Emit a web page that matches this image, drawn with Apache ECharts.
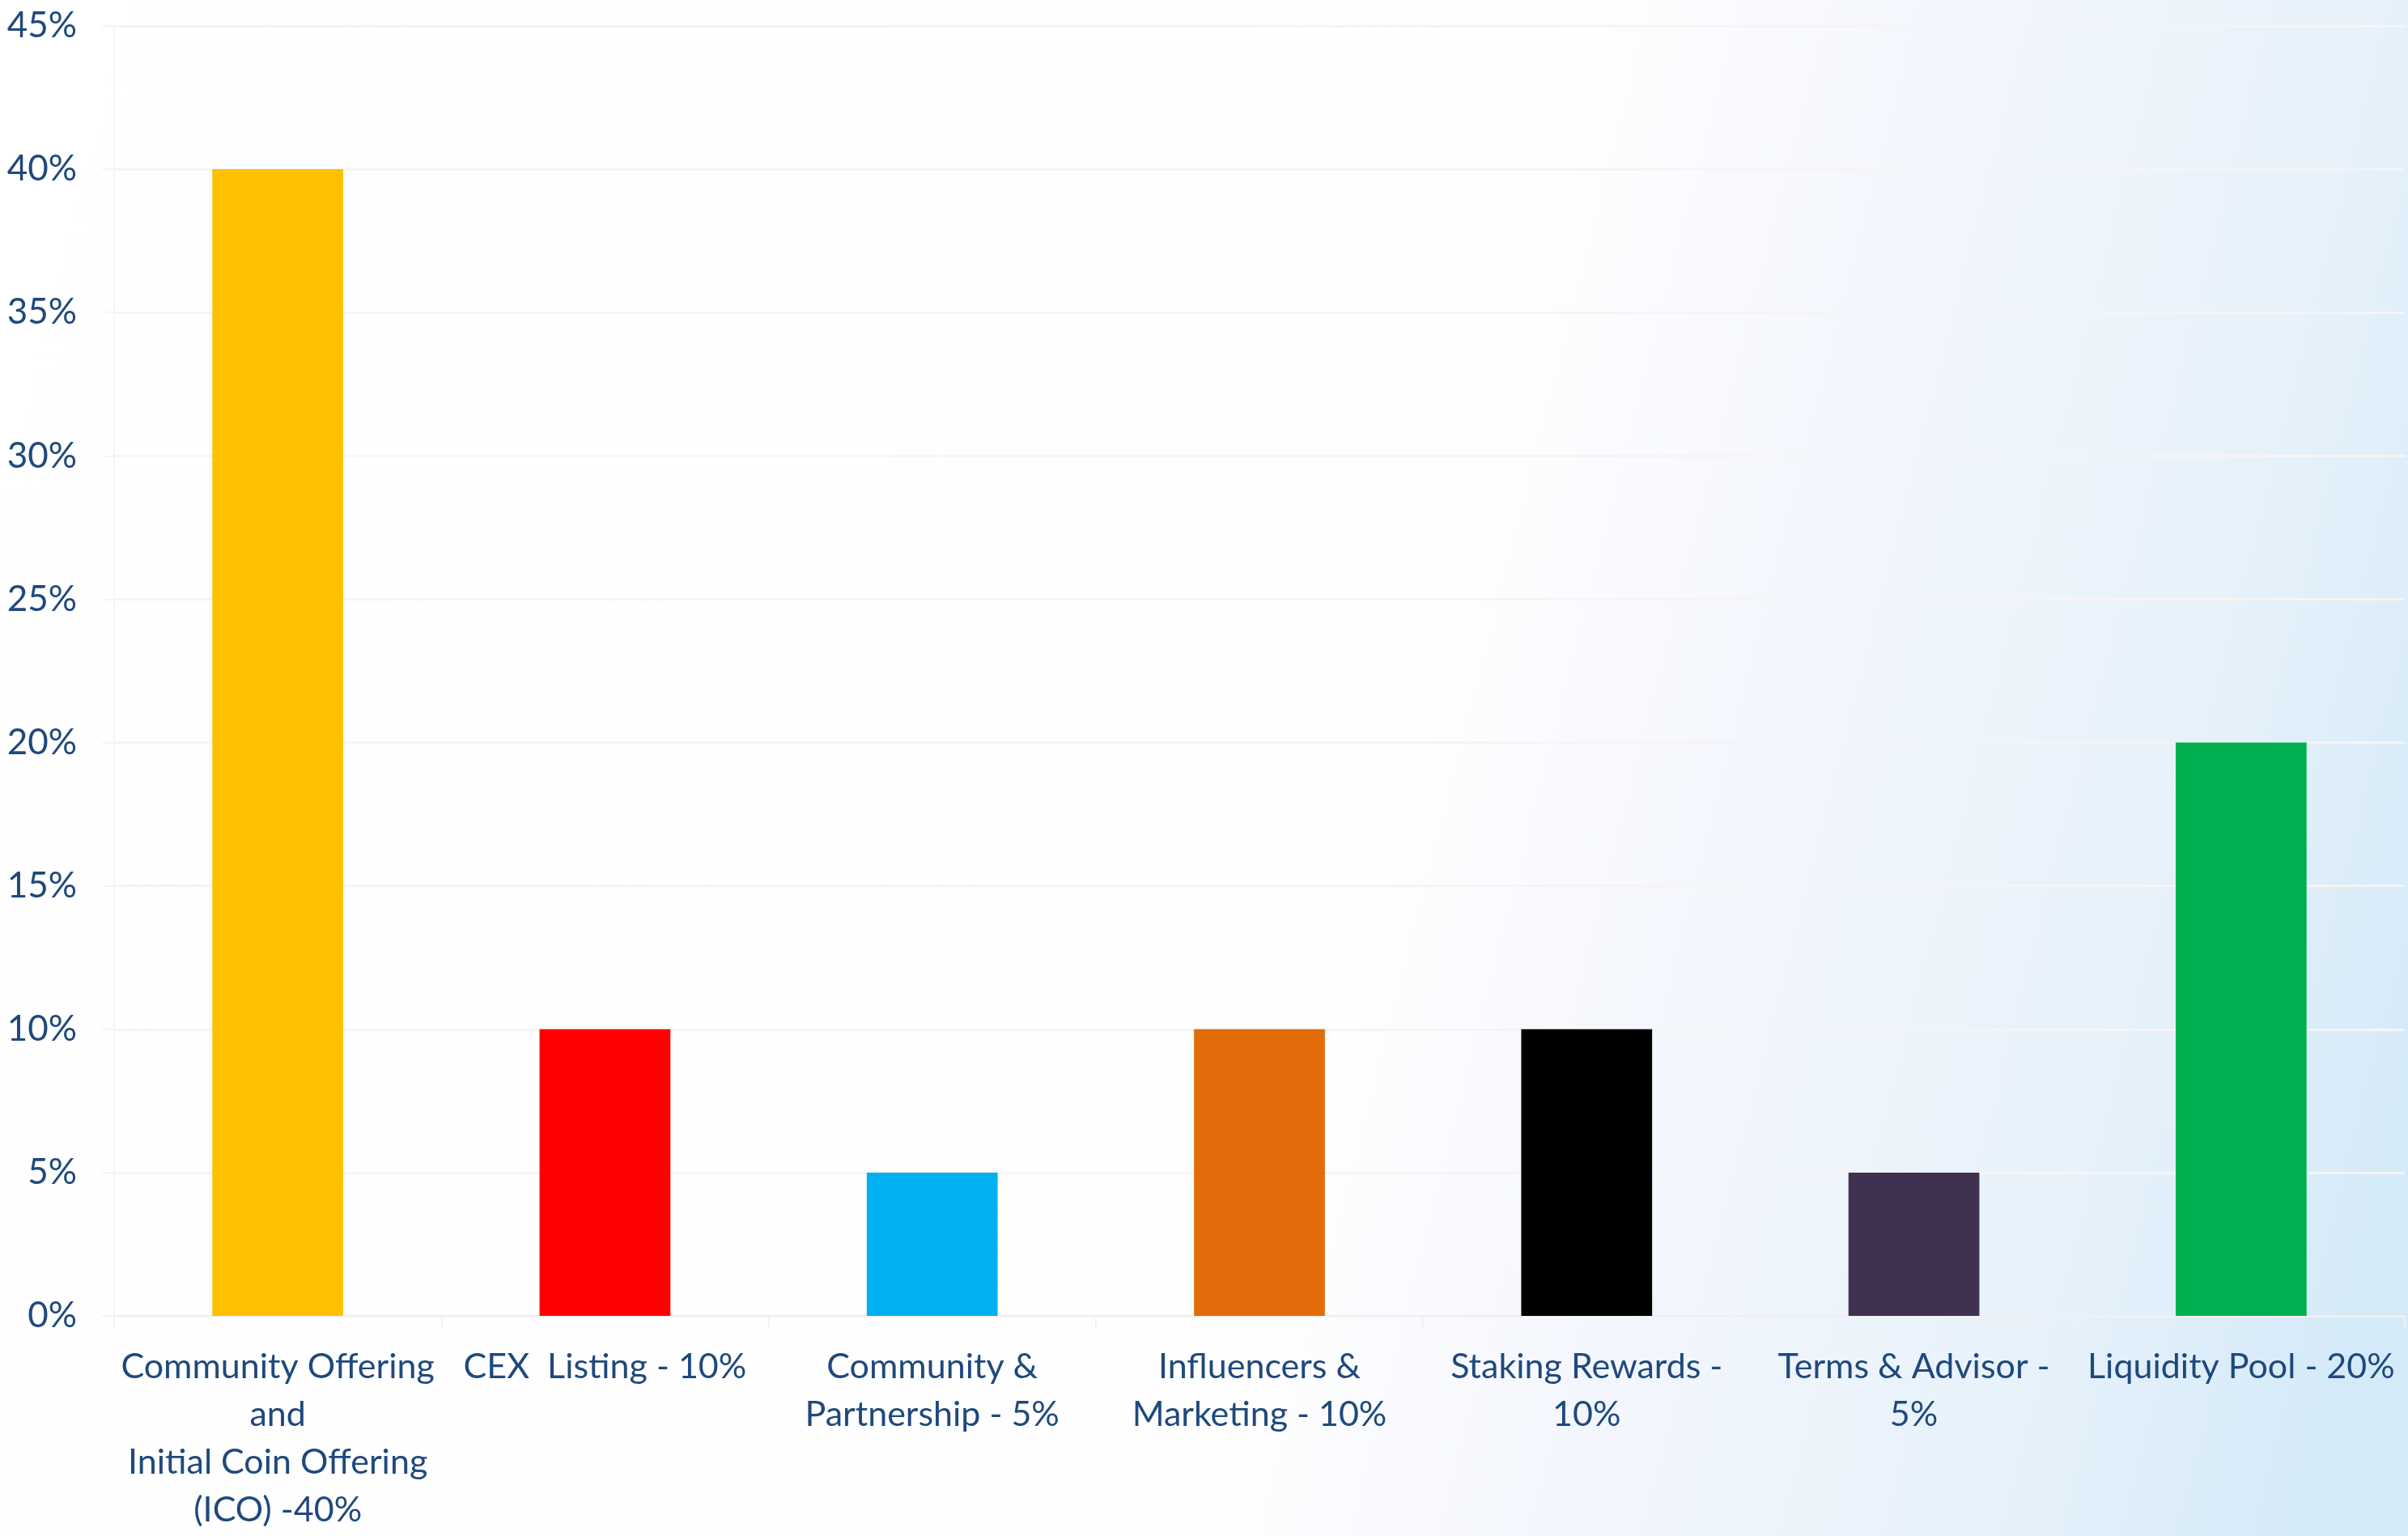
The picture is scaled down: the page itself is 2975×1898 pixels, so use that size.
<!DOCTYPE html>
<html>
<head>
<meta charset="utf-8">
<script src="https://cdn.jsdelivr.net/npm/echarts@6/dist/echarts.min.js"></script>
<style>
html,body{margin:0;padding:0;width:2975px;height:1898px;overflow:hidden;background:#fff;}
#chart{width:2975px;height:1898px;}
</style>
</head>
<body>
<div id="chart"></div>
<script>
var categories = [
  "Community Offering\nand\nInitial Coin Offering\n(ICO) -40%",
  "CEX  Listing - 10%",
  "Community &\nPartnership - 5%",
  "Influencers &\nMarketing - 10%",
  "Staking Rewards -\n10%",
  "Terms & Advisor -\n5%",
  "Liquidity Pool - 20%"
];
var values = [40, 10, 5, 10, 10, 5, 20];
var barColors = ["#ffc000", "#ff0000", "#00b0f0", "#e36c0a", "#000000", "#403151", "#00b050"];
var yTicks = [0, 5, 10, 15, 20, 25, 30, 35, 40, 45];

var textColor = "#1f497d";
var fontFamily = "Lato, 'Open Sans', sans-serif";

var chart = echarts.init(document.getElementById('chart'));
chart.setOption({
  animation: false,
  backgroundColor: {
    type: 'linear', x: 0, y: 0.3, x2: 1, y2: 0.7,
    colorStops: [
      {offset: 0, color: '#ffffff'},
      {offset: 0.58, color: '#fefeff'},
      {offset: 0.72, color: '#f3f6fd'},
      {offset: 0.88, color: '#e7f2fb'},
      {offset: 1, color: '#d5eaf8'}
    ]
  },
  grid: {left: 141, right: 4, top: 32, bottom: 272, containLabel: false, outerBoundsMode: 'none'},
  xAxis: {
    type: 'category',
    data: categories,
    boundaryGap: true,
    axisLine: {show: true, lineStyle: {color: '#efefef', width: 2}},
    axisTick: {show: true, alignWithLabel: false, length: 16, lineStyle: {color: '#f2f2f2', width: 2}},
    axisLabel: {
      interval: 0, margin: 34, color: textColor, fontSize: 43, lineHeight: 59,
      fontFamily: fontFamily, align: 'center'
    },
    splitLine: {show: false}
  },
  yAxis: {
    type: 'value',
    min: yTicks[0],
    max: yTicks[yTicks.length - 1],
    interval: yTicks[1] - yTicks[0],
    axisLine: {show: true, lineStyle: {color: '#f6f6f6', width: 2}},
    axisTick: {show: true, length: 15, lineStyle: {color: '#f6f4f4', width: 2}},
    axisLabel: {
      margin: 46, color: textColor, fontSize: 44, fontFamily: fontFamily,
      formatter: '{value}%'
    },
    splitLine: {show: true, lineStyle: {color: '#f7f4f4', width: 3}}
  },
  series: [{
    type: 'bar',
    barWidth: '40%',
    data: values.map(function (v, i) {
      return {value: v, itemStyle: {color: barColors[i]}};
    })
  }]
});
</script>
</body>
</html>
